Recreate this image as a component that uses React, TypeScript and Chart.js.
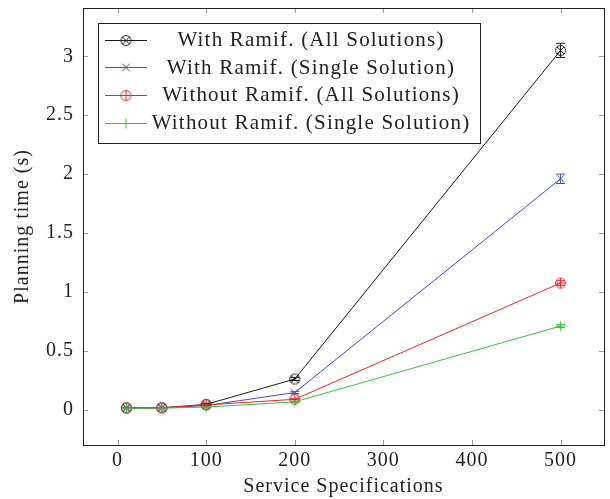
import React, { useEffect, useRef } from 'react';
import { Chart, registerables } from 'chart.js';

Chart.register(...registerables);

// ---- data ----
const serviceSpecs = [10, 50, 100, 200, 500];

const withRamifAll = [0.015, 0.016, 0.045, 0.26, 3.05];
const withRamifAllErr = [0.002, 0.002, 0.004, 0.012, 0.06];
const withRamifSingle = [0.014, 0.015, 0.035, 0.145, 1.96];
const withRamifSingleErr = [0.002, 0.002, 0.003, 0.008, 0.04];
const withoutRamifAll = [0.014, 0.015, 0.04, 0.088, 1.075];
const withoutRamifAllErr = [0.002, 0.002, 0.003, 0.005, 0.02];
const withoutRamifSingle = [0.012, 0.013, 0.022, 0.066, 0.71];
const withoutRamifSingleErr = [0.001, 0.001, 0.002, 0.004, 0.012];

const seriesLabels = [
  'With Ramif. (All Solutions)',
  'With Ramif. (Single Solution)',
  'Without Ramif. (All Solutions)',
  'Without Ramif. (Single Solution)',
];

const xTickValues = [0, 100, 200, 300, 400, 500];
const yTickValues = [0, 0.5, 1, 1.5, 2, 2.5, 3];

const xTitle = 'Service Specifications';
const yTitle = 'Planning time (s)';

// ---- styles ----
const FONT = '"Liberation Serif", "DejaVu Serif", serif';
const colors = ['#1a1a1a', '#3f4fbf', '#e8292b', '#3fbf3f'];
const markerKinds = ['otimes', 'x', 'oplus', 'plus'];

function makeMarker(kind: string, color: string): HTMLCanvasElement {
  const c = document.createElement('canvas');
  c.width = 13;
  c.height = 13;
  const g = c.getContext('2d')!;
  const m = 6.5;
  g.strokeStyle = color;
  g.lineWidth = 1;
  g.beginPath();
  if (kind === 'otimes' || kind === 'oplus') {
    const r = 5;
    g.arc(m, m, r, 0, Math.PI * 2);
    if (kind === 'otimes') {
      const d = r * Math.SQRT1_2;
      g.moveTo(m - d, m - d);
      g.lineTo(m + d, m + d);
      g.moveTo(m - d, m + d);
      g.lineTo(m + d, m - d);
    } else {
      g.moveTo(m - r, m);
      g.lineTo(m + r, m);
      g.moveTo(m, m - r);
      g.lineTo(m, m + r);
    }
  } else if (kind === 'x') {
    const d = 3.8;
    g.moveTo(m - d, m - d);
    g.lineTo(m + d, m + d);
    g.moveTo(m - d, m + d);
    g.lineTo(m + d, m - d);
  } else {
    const d = 5;
    g.moveTo(m - d, m);
    g.lineTo(m + d, m);
    g.moveTo(m, m - d);
    g.lineTo(m, m + d);
  }
  g.stroke();
  return c;
}

export default function App() {
  const ref = useRef<HTMLCanvasElement | null>(null);

  useEffect(() => {
    if (!ref.current) return;
    const markers = markerKinds.map((k, i) => makeMarker(k, colors[i]));
    const values = [withRamifAll, withRamifSingle, withoutRamifAll, withoutRamifSingle];
    const errors = [withRamifAllErr, withRamifSingleErr, withoutRamifAllErr, withoutRamifSingleErr];

    const spacing = {
      id: 'spacing',
      beforeDraw(chart: any) {
        chart.ctx.letterSpacing = '1px';
      },
    };

    const frameTicks = {
      id: 'frameTicks',
      afterDraw(chart: any) {
        const { ctx, chartArea: a, scales } = chart;
        ctx.save();
        ctx.strokeStyle = '#a0a0a0';
        ctx.lineWidth = 1;
        const L = 5;
        ctx.beginPath();
        xTickValues.forEach((v) => {
          const x = Math.round(scales.x.getPixelForValue(v)) + 0.5;
          ctx.moveTo(x, a.bottom);
          ctx.lineTo(x, a.bottom - L);
          ctx.moveTo(x, a.top);
          ctx.lineTo(x, a.top + L);
        });
        yTickValues.forEach((v) => {
          const y = Math.round(scales.y.getPixelForValue(v)) + 0.5;
          ctx.moveTo(a.left, y);
          ctx.lineTo(a.left + L, y);
          ctx.moveTo(a.right, y);
          ctx.lineTo(a.right - L, y);
        });
        ctx.stroke();
        ctx.strokeStyle = '#222';
        ctx.strokeRect(Math.round(a.left) + 0.5, Math.round(a.top) + 0.5, Math.round(a.right - a.left), Math.round(a.bottom - a.top));
        ctx.restore();
      },
    };

    const errorBars = {
      id: 'errorBars',
      afterDatasetsDraw(chart: any) {
        const { ctx, scales } = chart;
        ctx.save();
        ctx.lineWidth = 1;
        values.forEach((vals, i) => {
          ctx.strokeStyle = colors[i];
          ctx.beginPath();
          vals.forEach((v, j) => {
            const x = scales.x.getPixelForValue(serviceSpecs[j]);
            const y1 = scales.y.getPixelForValue(v + errors[i][j]);
            const y2 = scales.y.getPixelForValue(v - errors[i][j]);
            ctx.moveTo(x, y1);
            ctx.lineTo(x, y2);
            ctx.moveTo(x - 4.5, y1);
            ctx.lineTo(x + 4.5, y1);
            ctx.moveTo(x - 4.5, y2);
            ctx.lineTo(x + 4.5, y2);
          });
          ctx.stroke();
        });
        ctx.restore();
      },
    };

    const legendBox = {
      id: 'legendBox',
      afterDraw(chart: any) {
        const { ctx, chartArea: a } = chart;
        const left = a.left + 15;
        const top = a.top + 15;
        const w = 382;
        const h = 120;
        ctx.save();
        ctx.fillStyle = '#fff';
        ctx.fillRect(left, top, w, h);
        ctx.strokeStyle = '#222';
        ctx.lineWidth = 1;
        ctx.strokeRect(Math.round(left) + 0.5, Math.round(top) + 0.5, w, h);
        ctx.font = '21px ' + FONT;
        ctx.letterSpacing = '1.2px';
        ctx.textAlign = 'center';
        ctx.textBaseline = 'middle';
        seriesLabels.forEach((lab, i) => {
          const cy = top + 16.5 + i * 27.7;
          ctx.strokeStyle = colors[i];
          ctx.beginPath();
          ctx.moveTo(left + 7, Math.round(cy) + 0.5);
          ctx.lineTo(left + 49, Math.round(cy) + 0.5);
          ctx.stroke();
          const mk = markers[i];
          ctx.drawImage(mk, left + 28 - mk.width / 2, Math.round(cy) + 0.5 - mk.height / 2);
          ctx.fillStyle = '#222';
          ctx.fillText(lab, left + 213, cy + 1);
        });
        ctx.restore();
      },
    };

    const chart = new Chart(ref.current, {
      type: 'line',
      data: {
        datasets: values.map((vals, i) => ({
          label: seriesLabels[i],
          data: serviceSpecs.map((x, j) => ({ x, y: vals[j] })),
          borderColor: colors[i],
          backgroundColor: colors[i],
          borderWidth: 1,
          pointStyle: markers[i] as any,
          pointRadius: 5,
          pointHoverRadius: 5,
          tension: 0,
          fill: false,
          order: 3 - i,
        })),
      },
      options: {
        animation: false,
        responsive: false,
        maintainAspectRatio: false,
        events: [],
        layout: { padding: { top: 8, right: 6, left: 0, bottom: 0 } },
        plugins: {
          legend: { display: false },
          tooltip: { enabled: false },
        },
        scales: {
          x: {
            type: 'linear',
            min: -39,
            max: 549,
            grid: { display: false, drawTicks: false },
            border: { display: false },
            afterBuildTicks: (s: any) => {
              s.ticks = xTickValues.map((v) => ({ value: v }));
            },
            afterFit: (s: any) => {
              s.height = 54;
              s.paddingLeft = 0;
              s.paddingRight = 0;
            },
            ticks: {
              color: '#222',
              padding: 4,
              maxRotation: 0,
              autoSkip: false,
              font: { family: FONT, size: 20 },
              callback: (v: any) => String(v),
            },
            title: {
              display: true,
              text: xTitle,
              color: '#222',
              font: { family: FONT, size: 20 },
              padding: { top: 0, bottom: 0.5 },
            },
          },
          y: {
            type: 'linear',
            min: -0.3,
            max: 3.41,
            grid: { display: false, drawTicks: false },
            border: { display: false },
            afterBuildTicks: (s: any) => {
              s.ticks = yTickValues.map((v) => ({ value: v }));
            },
            afterFit: (s: any) => {
              s.width = 83;
              s.paddingTop = 0;
              s.paddingBottom = 0;
            },
            ticks: {
              color: '#222',
              padding: 9,
              autoSkip: false,
              font: { family: FONT, size: 20 },
              callback: (v: any) => String(v),
            },
            title: {
              display: true,
              text: yTitle,
              color: '#222',
              font: { family: FONT, size: 20 },
              padding: { top: 11, bottom: 0 },
            },
          },
        },
      },
      plugins: [spacing, errorBars, frameTicks, legendBox],
    } as any);

    return () => chart.destroy();
  }, []);

  return (
    <div style={{ position: 'fixed', left: 0, top: 0, width: 610, height: 499, background: '#fff' }}>
      <canvas ref={ref} width={610} height={499} style={{ width: 610, height: 499, display: 'block' }} />
    </div>
  );
}
